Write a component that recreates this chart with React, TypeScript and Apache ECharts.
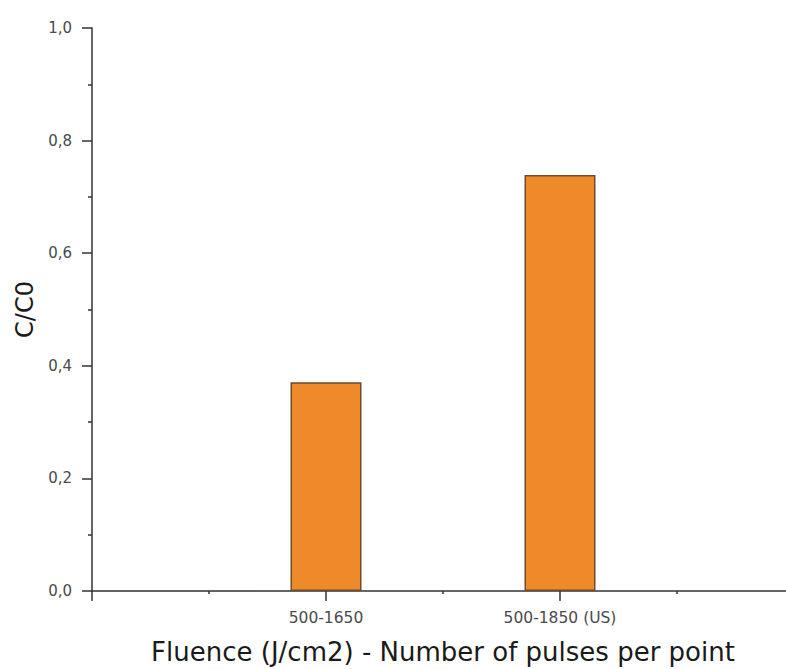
import { useEffect, useRef } from "react";
import * as echarts from "echarts";

// Categories sit at integer positions on the x axis; the axis runs 0..3.
const categories = ["500-1650", "500-1850 (US)"];
const categoryPositions = [1, 2];
const ratioValues = [0.371, 0.739];

const yMin = 0;
const yMax = 1;
const yStep = 0.2;
const xMin = 0;
const xMax = 3;

const FONT = "DejaVu Sans";

export default function App() {
  const ref = useRef<HTMLDivElement>(null);

  useEffect(() => {
    if (!ref.current) return;
    const chart = echarts.init(ref.current, undefined, { renderer: "svg" });

    const axisLine = { show: true, lineStyle: { color: "#333", width: 1.5 } };

    chart.setOption({
      animation: false,
      backgroundColor: "#fff",
      grid: {
        left: 92,
        right: -8,
        top: 28,
        bottom: 78,
        containLabel: false,
        outerBoundsMode: "none",
      },
      xAxis: {
        type: "value",
        min: xMin,
        max: xMax,
        interval: 1,
        axisLine: { ...axisLine, onZero: false },
        axisTick: { show: true, length: 10, inside: false, lineStyle: { color: "#333", width: 1.5 } },
        minorTick: { show: true, splitNumber: 2, length: 3, lineStyle: { color: "#333", width: 1.5 } },
        splitLine: { show: false },
        axisLabel: {
          margin: 19,
          fontFamily: FONT,
          fontSize: 15.5,
          color: "#4a4a4a",
          formatter: (v: number) => {
            const i = categoryPositions.indexOf(v);
            return i >= 0 ? categories[i] : "";
          },
        },
        name: "Fluence (J/cm2) - Number of pulses per point",
        nameLocation: "middle",
        nameGap: 48,
        nameTextStyle: { fontFamily: FONT, fontSize: 26, color: "#1a1a1a" },
      },
      yAxis: {
        type: "value",
        min: yMin,
        max: yMax,
        interval: yStep,
        axisLine,
        axisTick: { show: true, length: 10, lineStyle: { color: "#333", width: 1.5 } },
        minorTick: { show: true, splitNumber: 2, length: 4, lineStyle: { color: "#333", width: 1.5 } },
        splitLine: { show: false },
        axisLabel: {
          margin: 20,
          fontFamily: FONT,
          fontSize: 15,
          color: "#4a4a4a",
          formatter: (v: number) => v.toFixed(1).replace(".", ","),
        },
        name: "C/C0",
        nameLocation: "middle",
        nameGap: 54,
        nameTextStyle: { fontFamily: FONT, fontSize: 24, color: "#1a1a1a" },
      },
      series: [
        {
          type: "bar",
          barWidth: 71,
          data: categoryPositions.map((p, i) => [p, ratioValues[i]]),
          itemStyle: { color: "#EF8A2B", borderColor: "#6E4B2A", borderWidth: 1.5 },
        },
      ],
    });

    return () => chart.dispose();
  }, []);

  return (
    <div
      ref={ref}
      style={{ position: "fixed", left: 0, top: 0, width: 786, height: 669, background: "#fff" }}
    />
  );
}
